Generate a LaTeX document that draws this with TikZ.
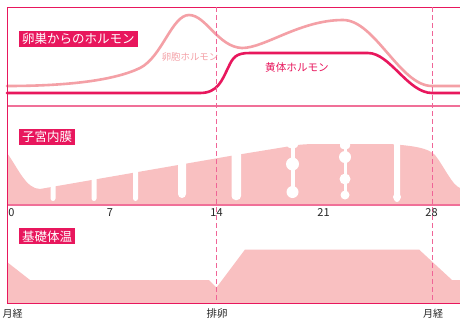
\documentclass[tikz,border=0pt]{standalone}
\usepackage{fontspec}
\setmainfont{Noto Sans CJK JP}
\definecolor{mag}{HTML}{E8175D}
\definecolor{lpink}{HTML}{F4A0A6}
\definecolor{fillpink}{HTML}{F9C0C1}
\definecolor{dpink}{HTML}{F06497}
\definecolor{axpink}{HTML}{F07098}
\begin{document}
\begin{tikzpicture}[x=1pt,y=-1pt,
  titlebox/.style={fill=mag,text=white,font=\fontsize{12.5}{14}\selectfont,inner xsep=3pt,inner ysep=0pt,minimum height=16pt,anchor=west},
  axlabel/.style={font=\fontsize{11}{12}\selectfont,text=black!85,inner sep=0pt},
  notchw/.style={fill=white,draw=none},
  vdash/.style={draw=dpink,line width=1pt,dash pattern=on 5pt off 3pt},
  hormone/.style={line width=2.6pt,line cap=round,line join=round}]
\useasboundingbox (0,0) rectangle (460,322);
\fill[white] (0,0) rectangle (460,322);

% endometrium fill
\fill[fillpink] (7,205) -- (7,153) .. controls (18,168) and (26,189) .. (40,189)
  -- (230,156) -- (285,147) .. controls (300,144) and (310,144) .. (320,144)
  -- (390,144) .. controls (415,146) and (428,148) .. (435,155)
  .. controls (445,168) and (452,185) .. (460,188) -- (460,205) -- cycle;
% notches
\fill[notchw,rounded corners=2.5pt] (50.5,140) rectangle (55.5,201);
\fill[notchw,rounded corners=2.5pt] (91.5,140) rectangle (96.5,201);
\fill[notchw,rounded corners=2.5pt] (133,140) rectangle (138,201);
\fill[notchw,rounded corners=4pt] (178,140) rectangle (186,198);
\fill[notchw,rounded corners=4pt] (231.5,140) rectangle (241,200);
\fill[notchw] (290.5,140) rectangle (294.5,190);
\fill[notchw,rounded corners=3pt] (287,138) rectangle (298,148);
\fill[notchw] (292.5,164) circle[radius=6.5];
\fill[notchw] (292.5,192) circle[radius=6];
\fill[notchw] (343.5,140) rectangle (346.5,195);
\fill[notchw,rounded corners=3pt] (340,138) rectangle (350,149);
\fill[notchw] (345,157) circle[radius=6];
\fill[notchw] (345,179) circle[radius=5.5];
\fill[notchw] (345,195) circle[radius=4.5];
\fill[notchw,rounded corners=3pt] (394,140) rectangle (400,202);
\fill[notchw] (397,197) circle[radius=4];

% basal body temperature fill
\fill[fillpink] (7,303) -- (7,262) -- (30,280) -- (209,280) -- (216.5,287.5)
  -- (245,249.5) -- (419,249.5) -- (452,280) -- (460,280) -- (460,303) -- cycle;

% hormone curves
\draw[hormone,lpink] (7,86) .. controls (70,86) and (115,80) .. (140,68)
  .. controls (162,57) and (172,15) .. (189,15)
  .. controls (206,15) and (218,47) .. (242,48)
  .. controls (265,48) and (300,20) .. (343,20)
  .. controls (375,20) and (400,86) .. (432,86) -- (460,86);
\draw[hormone,mag] (7,93) -- (200,93) .. controls (218,93) and (222,80) .. (228,68)
  .. controls (233,57) and (236,53) .. (250,53) -- (368,53)
  .. controls (390,53) and (408,93) .. (432,93) -- (460,93);

% frame lines
\draw[axpink,line width=1.2pt] (7,106) -- (460,106);
\draw[axpink,line width=1.5pt] (7,205) -- (460,205);
\draw[mag,line width=1pt] (460,7) -- (7,7) -- (7,303) -- (460,303);

% ovulation and menstruation lines
\draw[vdash] (216.5,7) -- (216.5,303);
\draw[vdash] (432,7) -- (432,303);

% titles
\node[titlebox] (t1) at (19,39) {卵巣からのホルモン};
\node[titlebox] (t2) at (19,137) {子宮内膜};
\node[titlebox] (t3) at (19,236.3) {基礎体温};

% hormone labels
\node[font=\fontsize{9.4}{11}\selectfont,text=lpink,inner sep=0pt] (l1) at (190,56.7) {卵胞ホルモン};
\node[font=\fontsize{10.6}{12}\selectfont,text=mag,inner sep=0pt] (l2) at (297,67.7) {黄体ホルモン};

% day labels
\node[axlabel] (d0) at (11.5,213) {0};
\node[axlabel] (d7) at (110,213) {7};
\node[axlabel] (d14) at (216.5,213) {14};
\node[axlabel] (d21) at (323.5,213) {21};
\node[axlabel] (d28) at (431.5,213) {28};

% bottom labels
\node[font=\fontsize{10}{12}\selectfont,text=black!85,inner sep=0pt] (m1) at (12.7,314) {月経};
\node[font=\fontsize{10.5}{12}\selectfont,text=black!85,inner sep=0pt] (ov) at (217,314) {排卵};
\node[font=\fontsize{10}{12}\selectfont,text=black!85,inner sep=0pt] (m2) at (433,314) {月経};
\end{tikzpicture}
\end{document}
